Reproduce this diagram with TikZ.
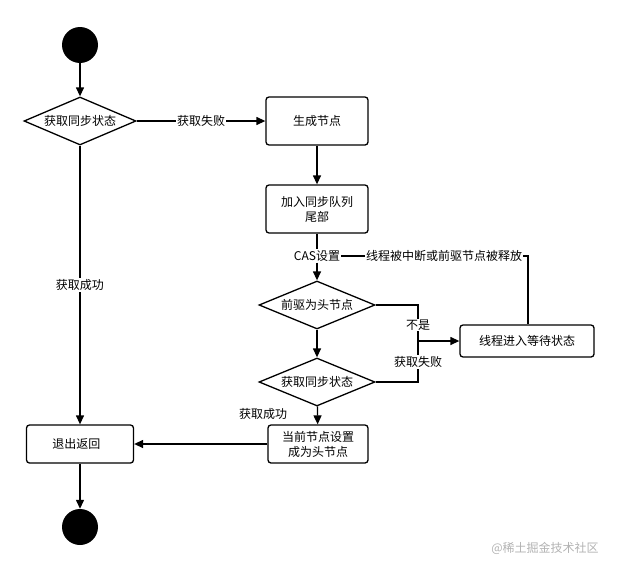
\documentclass[tikz,border=0pt]{standalone}
\usepackage{fontspec}
\setmainfont{Noto Sans CJK SC}
\usetikzlibrary{shapes.geometric,arrows.meta}
\begin{document}
\begin{tikzpicture}[x=1pt,y=-1pt,
  box/.style={draw,line width=1.3pt,rounded corners=3pt,align=center,font=\fontsize{12}{15}\selectfont,inner sep=0pt},
  dia/.style={draw,line width=1.3pt,diamond,aspect=2.4,inner sep=0pt,font=\fontsize{12}{14}\selectfont},
  dot/.style={circle,fill=black,minimum size=36pt,inner sep=0pt},
  ln/.style={line width=1.3pt},
  ar/.style={line width=1.3pt,-{Triangle[length=9pt,width=8pt]}},
  lbl/.style={fill=white,inner sep=1pt,font=\fontsize{12}{14}\selectfont}]
\useasboundingbox (0,0) rectangle (619,573);
\node[dot] (s) at (80,45) {};
\node[dia,minimum width=112pt,minimum height=48pt] (d1) at (80,121) {获取同步状态};
\node[box,minimum width=102pt,minimum height=48pt] (b1) at (317,121) {生成节点};
\node[box,minimum width=102pt,minimum height=48pt] (b2) at (317,209) {加入同步队列\\尾部};
\node[lbl] (cas) at (317,256) {CAS设置};
\node[dia,minimum width=116pt,minimum height=48pt] (d2) at (317,305) {前驱为头节点};
\node[box,minimum width=134pt,minimum height=32pt] (w) at (527,341) {线程进入等待状态};
\node[dia,minimum width=116pt,minimum height=48pt] (d3) at (317,382) {获取同步状态};
\node[box,minimum width=100pt,minimum height=38pt] (c) at (318,444) {当前节点设置\\成为头节点};
\node[box,minimum width=107pt,minimum height=38pt,text width=95pt,align=left] (e) at (80,444) {\hspace*{20pt}退出返回};
\node[dot] (t) at (80,527) {};
\coordinate (j) at (418,341);
\draw[ar] (s) -- (d1);
\draw[ar] (d1) -- node[lbl]{获取失败} (b1);
\draw[ar] (b1) -- (b2);
\draw[ln] (b2) -- (cas);
\draw[ar] (cas) -- (d2);
\draw[ln] (cas.east) -- (528,256) -- (w.north -| 528,0);
\node[lbl] at (444,256) {线程被中断或前驱节点被释放};
\draw[ln] (d2.east) -- (418,305) -- (j);
\node[lbl] at (418,325) {不是};
\draw[ln] (d3.east) -- (418,382) -- (j);
\node[lbl] at (418,362) {获取失败};
\draw[ar] (j) -- (w);
\draw[ar] (d2) -- (d3);
\draw[ar] (d3) -- (c);
\node[font=\fontsize{12}{14}\selectfont] at (263,414) {获取成功};
\draw[ar] (d1) -- node[lbl,pos=0.5]{获取成功} (e);
\draw[ar] (c) -- (e);
\draw[ar] (e) -- (t);
\node[font=\fontsize{12}{14}\selectfont,text=gray!60] at (545,548) {@稀土掘金技术社区};
\end{tikzpicture}
\end{document}
